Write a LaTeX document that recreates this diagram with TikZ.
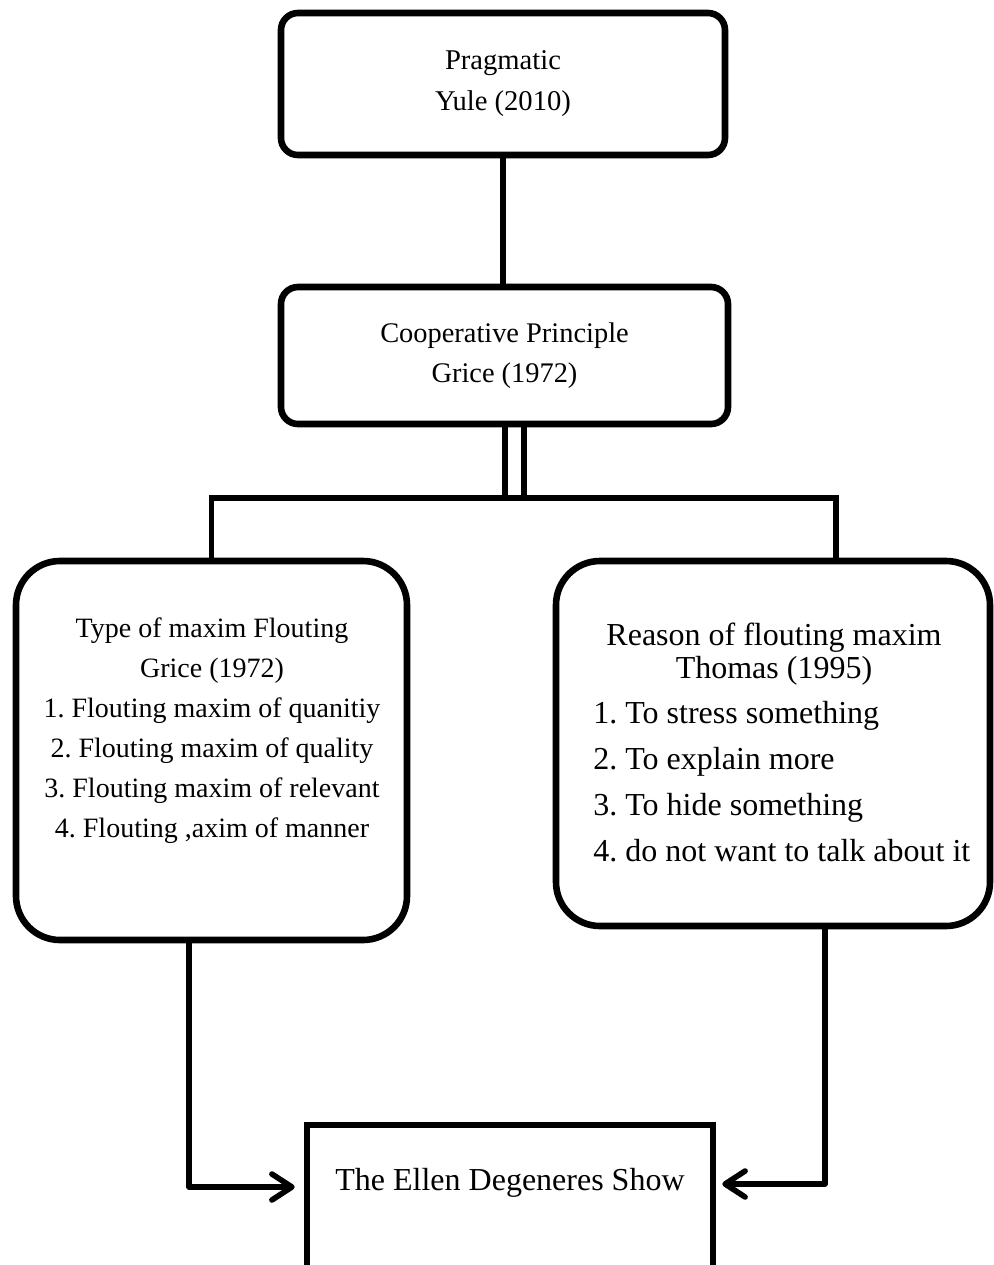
\documentclass[tikz,border=0pt]{standalone}
\usepackage{fontspec}
\setmainfont{Liberation Serif}
\usetikzlibrary{arrows.meta}
\frenchspacing
\begin{document}
\begin{tikzpicture}[x=0.5pt,y=-0.5pt,
  box/.style={draw=black, line width=3.3pt, fill=white, inner sep=0pt},
  rbox/.style={box, rounded corners=#1},
  conn/.style={line width=2.8pt},
  arr/.style={conn, line join=round, -{Straight Barb[length=10pt,width=13pt,line cap=round,line join=round]}},
  txt/.style={inner sep=0pt, align=center, font=\fontsize{14}{20}\selectfont},
  bigtxt/.style={inner sep=0pt, font=\fontsize{16}{23}\selectfont}]
\useasboundingbox (0,0) rectangle (994,1265);
\clip (0,0) rectangle (994,1265);

% boxes
\node[rbox=8.5pt, minimum width=222pt, minimum height=71pt, txt, font=\fontsize{14.3}{20.5}\selectfont] (top) at (503,84) {Pragmatic\\Yule (2010)};
\node[rbox=8.5pt, minimum width=223.5pt, minimum height=68.5pt, txt, font=\fontsize{14.2}{20}\selectfont] (coop) at (504.5,355.5) {Cooperative Principle\\Grice (1972)};
\node[rbox=22pt, minimum width=195.5pt, minimum height=189.5pt] (left) at (211.5,750.5) {};
\node[rbox=22pt, minimum width=217pt, minimum height=182.5pt] (right) at (773,743.5) {};
\node[box, minimum width=203pt, minimum height=97.5pt] (show) at (510,1222.5) {};

% texts
\node[txt] (ltext) at (212,731) {Type of maxim Flouting\\Grice (1972)\\1. Flouting maxim of quanitiy\\2. Flouting maxim of quality\\3. Flouting maxim of relevant\\4. Flouting ,axim of manner};
\node[bigtxt, align=center, font=\fontsize{16}{16.5}\selectfont] (rhead) at (774,654) {Reason of flouting maxim\\Thomas (1995)};
\node[bigtxt, align=left, anchor=north west] (rlist) at (593,701) {1. To stress something\\2. To explain more\\3. To hide something\\4. do not want to talk about it};
\node[bigtxt, anchor=base] (showtext) at (510,1190) {The Ellen Degeneres Show};

% connectors
\coordinate (jl) at (211.5,498);
\coordinate (jr) at (836,498);
\coordinate (d1) at (505,0);
\coordinate (d2) at (524,0);
\draw[conn] (top.south) -- (top.south |- coop.north);
\draw[conn] (d1 |- coop.south) -- (d1 |- jl);
\draw[conn] (d2 |- coop.south) -- (d2 |- jl);
\draw[conn] (jl |- left.north) -- (jl) -- (jr) -- (jr |- right.north);

\coordinate (ax) at (189,1187);
\coordinate (bx) at (825,1184);
\draw[arr, shorten >=4.5pt] (ax |- left.south) -- (ax) -- (show.west |- ax);
\draw[arr, shorten >=3pt] (bx |- right.south) -- (bx) -- (show.east |- bx);
\end{tikzpicture}
\end{document}
